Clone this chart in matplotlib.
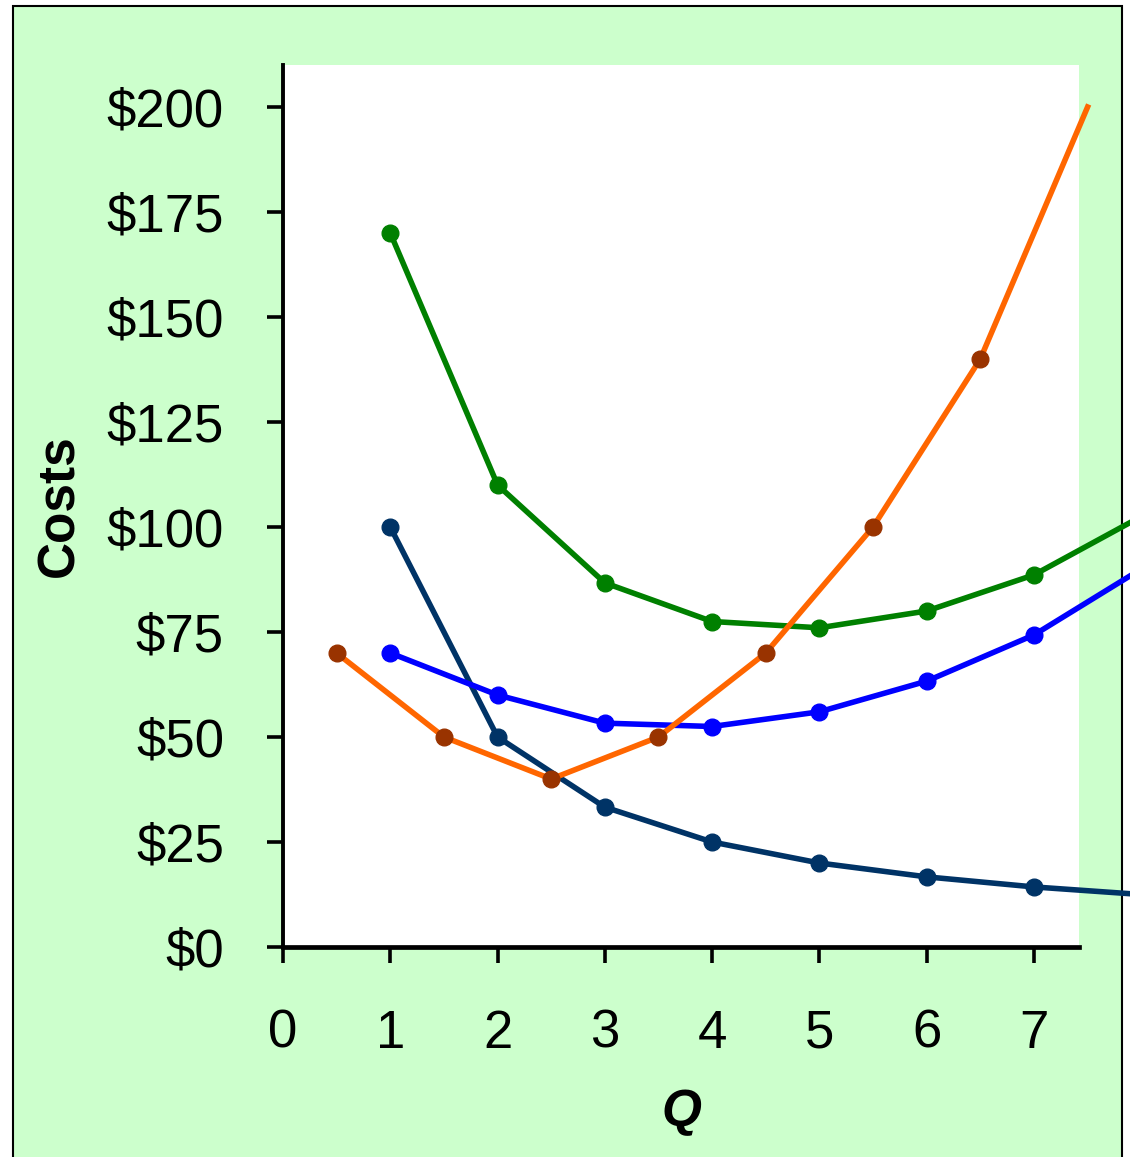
import matplotlib
matplotlib.use("Agg")
from matplotlib import pyplot as plt
from matplotlib.patches import Rectangle

# cost schedule (per unit of output Q)
q = [1, 2, 3, 4, 5, 6, 7, 8]
afc = [100, 50, 33.3, 25, 20, 16.7, 14.3, 12.5]
avc = [70, 60, 53.3, 52.5, 56, 63.3, 74.3, 90]
atc = [170, 110, 86.7, 77.5, 76, 80, 88.6, 102.5]
# marginal cost sits at the midpoints
q_mid = [0.5, 1.5, 2.5, 3.5, 4.5, 5.5, 6.5, 7.5]
mc = [70, 50, 40, 50, 70, 100, 140, 200]

y_ticks = [0, 25, 50, 75, 100, 125, 150, 175, 200]
x_ticks = [0, 1, 2, 3, 4, 5, 6, 7]

plt.rcParams["font.family"] = ["Liberation Sans", "DejaVu Sans"]

fig = plt.figure(figsize=(11.3, 11.57), dpi=100)
fig.patch.set_facecolor("white")
# green panel with a thin black frame
fig.patches.append(Rectangle((13 / 1130, -0.01), (1122 - 13) / 1130, 1 - 6 / 1157 + 0.01,
                             transform=fig.transFigure, facecolor="#CCFFCC",
                             edgecolor="black", linewidth=1.5, zorder=-1))

ax = fig.add_axes([283 / 1130, 1 - 947 / 1157, (1079 - 283) / 1130, (947 - 65) / 1157])
ax.set_zorder(2)
ax.set_facecolor("white")

lw = 4
ms = 12
ax.plot(q, afc, color="#003366", lw=lw, marker="o", ms=ms, markevery=slice(0, 7), clip_on=False, zorder=3)
ax.plot(q, atc, color="#008000", lw=lw, marker="o", ms=ms, markevery=slice(0, 7), clip_on=False, zorder=4)
ax.plot(q, avc, color="#0000FF", lw=lw, marker="o", ms=ms, markevery=slice(0, 7), clip_on=False, zorder=5)
ax.plot(q_mid, mc, color="#FF6600", lw=lw, marker="o", ms=ms, mfc="#993300", mec="#993300",
        markevery=slice(0, 7), clip_on=False, zorder=6)

ax.set_xlim(0, 7.42)
ax.set_ylim(0, 210)
ax.set_xticks(x_ticks)
ax.set_xticklabels([str(x) for x in x_ticks])
ax.set_yticks(y_ticks)
ax.set_yticklabels([f"${y}" for y in y_ticks])

for side in ["top", "right"]:
    ax.spines[side].set_visible(False)
ax.spines["left"].set_linewidth(2.8)
ax.spines["bottom"].set_linewidth(3.4)

ax.tick_params(axis="y", length=11.5, width=2.6, labelsize=38, pad=31)
ax.tick_params(axis="x", length=11.5, width=2.6, labelsize=38, pad=33)

ax.set_xlabel("Q", fontsize=37, fontweight="bold", fontstyle="italic", va="center")
ax.xaxis.set_label_coords(0.5, -0.188)
ax.set_ylabel("Costs", fontsize=37, fontweight="bold", va="center")
ax.yaxis.set_label_coords(-0.28, 0.5)

fig.savefig("out.png", dpi=100)
